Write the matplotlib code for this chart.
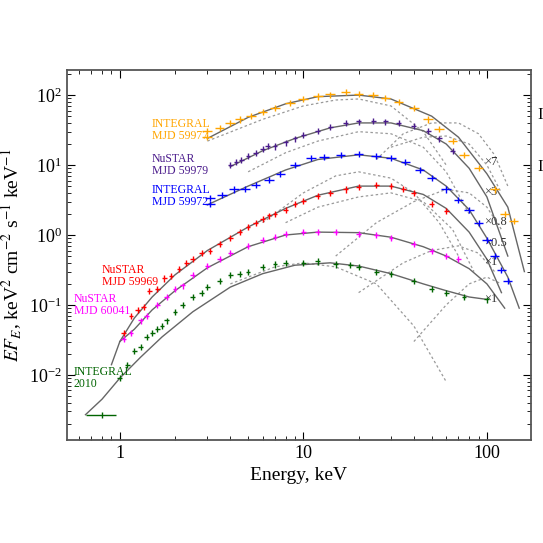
import numpy as np
import matplotlib
matplotlib.use("Agg")
import matplotlib.pyplot as plt

plt.rcParams['font.family'] = ['Liberation Serif', 'DejaVu Serif']
plt.rcParams['mathtext.fontset'] = 'stix'

# data (E keV, EF_E)
or_E = [3.0, 3.0, 3.5, 4.0, 4.5, 5.2, 6.0, 7.0, 8.5, 10, 12, 14, 17, 20, 24, 28, 33, 40, 48, 55, 65, 75, 90, 110, 125, 140]
or_F = [25, 31, 34, 40, 45, 50, 58, 66, 78, 88, 96, 102, 110, 105, 100, 92, 80, 65, 45, 33, 22, 14, 9, 4.5, 2.0, 1.6]
pu_E = [4.0, 4.3, 4.6, 5.0, 5.5, 6.0, 6.4, 7.0, 8.0, 9.0, 10, 12, 14, 17, 20, 24, 28, 33, 40, 48, 55, 65]
pu_F = [10, 11, 12, 13.5, 15, 17, 19, 18.5, 21, 24, 27, 31, 35, 40, 42, 43, 42, 40, 36, 31, 24, 16]
bl_E = [3.1, 3.1, 3.6, 4.2, 4.8, 5.5, 6.5, 7.5, 9.0, 11, 13, 16, 20, 25, 30, 36, 43, 50, 60, 70, 80, 90, 100, 110, 120, 130]
bl_F = [2.8, 3.4, 3.7, 4.5, 4.6, 5.2, 6.2, 7.5, 10, 12.5, 13, 14, 14.5, 13.5, 12.5, 11, 8.5, 6.5, 4.5, 3.2, 2.3, 1.5, 0.85, 0.5, 0.32, 0.22]
rd_E = [1.05, 1.15, 1.25, 1.35, 1.45, 1.6, 1.75, 1.9, 2.1, 2.3, 2.5, 2.8, 3.1, 3.5, 4.0, 4.5, 5.0, 5.5, 6.0, 6.5, 7.0, 8.0, 9.0, 10, 12, 14, 17, 20, 25, 30, 35, 40, 50, 60]
rd_F = [0.04, 0.07, 0.085, 0.095, 0.16, 0.17, 0.24, 0.26, 0.33, 0.4, 0.45, 0.55, 0.6, 0.75, 0.9, 1.1, 1.3, 1.5, 1.7, 1.9, 2.0, 2.3, 2.8, 3.1, 3.6, 4.0, 4.5, 4.9, 5.2, 5.0, 4.6, 4.0, 2.8, 2.2]
mg_E = [1.05, 1.15, 1.3, 1.4, 1.6, 1.8, 2.0, 2.2, 2.5, 3.0, 3.5, 4.0, 5.0, 6.0, 7.0, 8.0, 10, 12, 15, 20, 25, 30, 40, 50, 60, 70]
mg_F = [0.033, 0.04, 0.06, 0.07, 0.1, 0.13, 0.17, 0.19, 0.27, 0.36, 0.45, 0.55, 0.7, 0.85, 0.95, 1.05, 1.1, 1.1, 1.1, 1.05, 1.0, 0.9, 0.75, 0.6, 0.5, 0.45]
gr_E = [0.8, 1.0, 1.1, 1.2, 1.3, 1.4, 1.5, 1.6, 1.7, 1.8, 2.0, 2.2, 2.5, 2.8, 3.0, 3.5, 4.0, 4.5, 5.0, 6.0, 7.0, 8.0, 10, 12, 15, 18, 20, 25, 30, 40, 50, 60, 75, 100]
gr_F = [0.0027, 0.009, 0.014, 0.022, 0.025, 0.035, 0.04, 0.045, 0.05, 0.06, 0.08, 0.1, 0.13, 0.15, 0.18, 0.22, 0.27, 0.28, 0.3, 0.35, 0.38, 0.4, 0.4, 0.42, 0.38, 0.37, 0.35, 0.3, 0.28, 0.22, 0.17, 0.15, 0.13, 0.12]

# models
m_or_E = [3.0, 5, 8, 12, 20, 30, 50, 70, 100, 130, 160]
m_or_F = [24, 48, 75, 95, 100, 88, 50, 25, 7.5, 2.5, 0.3]
m_pu_E = [4.0, 6, 9, 14, 20, 30, 45, 60, 80, 100, 130]
m_pu_F = [9.5, 16, 24, 34, 40, 40, 31, 20, 9, 3.5, 0.5]
m_bl_E = [3.0, 5, 8, 12, 20, 30, 45, 60, 80, 100, 130, 150]
m_bl_F = [2.7, 5, 8.5, 12, 14, 12.5, 8.5, 5, 2.3, 0.9, 0.25, 0.09]
m_rd_E = [0.9, 1.0, 1.2, 1.5, 2, 3, 5, 8, 12, 20, 30, 45, 60, 80, 100, 120]
m_rd_F = [0.014, 0.03, 0.065, 0.13, 0.27, 0.6, 1.3, 2.4, 3.7, 5.0, 5.0, 3.8, 2.4, 1.1, 0.45, 0.15]
m_mg_E = [1.0, 1.2, 1.5, 2, 3, 5, 8, 12, 20, 30, 45, 60, 80, 100, 125]
m_mg_F = [0.03, 0.045, 0.085, 0.16, 0.34, 0.68, 1.0, 1.1, 1.08, 0.93, 0.68, 0.5, 0.33, 0.2, 0.09]
m_gr_E = [0.65, 0.8, 1.0, 1.3, 1.7, 2.5, 4, 6, 9, 14, 20, 30, 45, 60, 80, 100]
m_gr_F = [0.0027, 0.0045, 0.009, 0.018, 0.035, 0.08, 0.18, 0.28, 0.37, 0.4, 0.36, 0.28, 0.2, 0.16, 0.13, 0.12]

# model components (dotted)
comp_E = [
    [3, 6, 10, 15, 20, 30, 45, 60],
    [25, 35, 50, 70, 90, 110, 130],
    [5, 8, 12, 20, 30, 45, 60, 80],
    [30, 45, 60, 80, 100, 120],
    [6, 10, 15, 20, 30, 40, 55, 70],
    [15, 25, 40, 60, 80, 100, 120],
    [8, 12, 20, 30, 45, 65, 85],
    [20, 35, 50, 70, 90, 110],
    [4, 7, 10, 15, 25, 40, 60],
    [40, 60, 80, 100, 120],
]
comp_F = [
    [22, 45, 70, 85, 88, 70, 30, 10],
    [12, 28, 40, 40, 28, 14, 5],
    [8, 15, 22, 30, 28, 18, 8, 2],
    [18, 25, 26, 20, 10, 4],
    [1.5, 4, 7, 8, 6.5, 4, 1.5, 0.5],
    [0.5, 1.5, 3, 4.5, 4, 2.5, 1.2],
    [1.5, 2.5, 3.5, 4, 3, 1.2, 0.3],
    [0.15, 0.4, 0.6, 0.7, 0.55, 0.3],
    [0.2, 0.35, 0.4, 0.35, 0.2, 0.05, 0.008],
    [0.03, 0.1, 0.2, 0.25, 0.2],
]

labels = ["INTEGRAL\nMJD 59977", "NuSTAR\nMJD 59979", "INTEGRAL\nMJD 59972",
          "NuSTAR\nMJD 59969", "NuSTAR\nMJD 60041", "INTEGRAL\n2010"]
label_E = [1.49, 1.49, 1.49, 0.80, 0.56, 0.56]
label_F = [32, 10, 3.6, 0.26, 0.1, 0.009]
colors = ["#FFA500", "#4B1C8C", "#0000FF", "#FF0000", "#FF00FF", "#006400"]
scale_txt = ["×7", "×3", "×0.8", "×0.5", "×1", "×1"]
scale_F = [11, 4.1, 1.55, 0.78, 0.41, 0.12]

fig = plt.figure(figsize=(5.43, 5.43), dpi=100)
ax = fig.add_axes([0.123, 0.19, 0.855, 0.681])
ax.set_xscale('log'); ax.set_yscale('log')
ax.set_xlim(0.514, 174); ax.set_ylim(1.18e-3, 228)

for E, F in zip(comp_E, comp_F):
    ax.plot(E, F, ls=(0, (2, 2)), color='#9a9a9a', lw=0.9)

datasets = [(or_E, or_F), (pu_E, pu_F), (bl_E, bl_F), (rd_E, rd_F), (mg_E, mg_F), (gr_E, gr_F)]
models = [(m_or_E, m_or_F), (m_pu_E, m_pu_F), (m_bl_E, m_bl_F), (m_rd_E, m_rd_F), (m_mg_E, m_mg_F), (m_gr_E, m_gr_F)]
for (E, F), (mE, mF), c in zip(datasets, models, colors):
    E = np.array(E); F = np.array(F)
    ax.plot(mE, mF, color='#666666', lw=1.0, zorder=3)
    xerr = E * 0.03 if c not in ("#FFA500", "#0000FF", "#006400") else E * 0.06
    if c == "#006400":
        xerr = np.where(E < 0.9, 0.15, E * 0.03)
    yerr = F * 0.1
    ax.errorbar(E, F, xerr=xerr, yerr=yerr, fmt='none', ecolor=c, elinewidth=1.0, zorder=4)

for t, x, y, c in zip(labels, label_E, label_F, colors):
    ax.text(x, y, t, color=c, fontsize=8.5, ha='left', va='center', linespacing=1.0)
for t, y in zip(scale_txt, scale_F):
    ax.text(96, y, t, color='#333333', fontsize=9, ha='left', va='center')

ax.set_xlabel('Energy, keV', fontsize=14)
ax.set_ylabel(r'$EF_E$, keV$^2$ cm$^{-2}$ s$^{-1}$ keV$^{-1}$', fontsize=14)
ax.set_xticks([1, 10, 100]); ax.set_xticklabels(['1', '10', '100'])
ax.tick_params(which='both', direction='in', top=True, right=True, labelsize=13)
ax.tick_params(which='major', length=6)
ax.tick_params(which='minor', length=3)
for s in ax.spines.values():
    s.set_color('#555555'); s.set_linewidth(1.3)
fig.text(0.99, 0.78, 'I', fontsize=12)
fig.text(0.99, 0.685, 'I', fontsize=12)
fig.savefig('out.png', dpi=100)
